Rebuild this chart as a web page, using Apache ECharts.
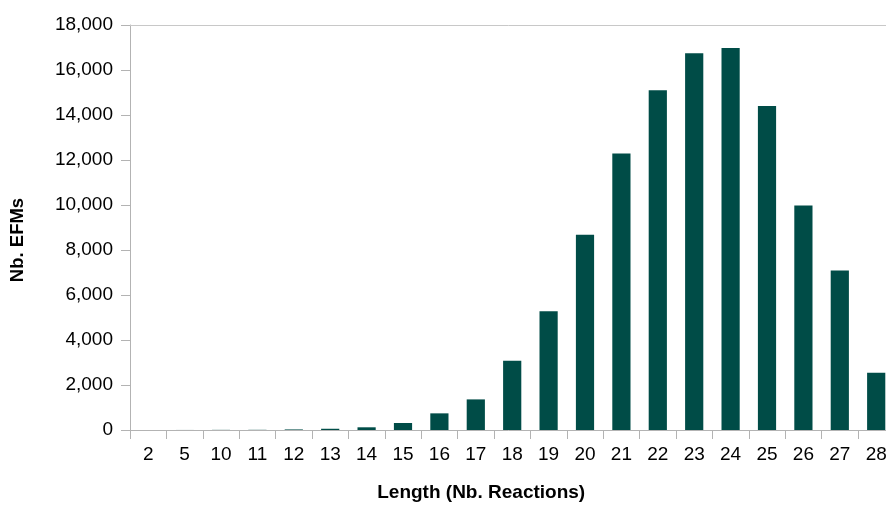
<!DOCTYPE html>
<html>
<head>
<meta charset="utf-8">
<script src="https://cdn.jsdelivr.net/npm/echarts@6/dist/echarts.min.js"></script>
<style>
html,body{margin:0;padding:0;background:#fff;overflow:hidden;}
#chart{width:886px;height:506px;}
</style>
</head>
<body>
<div id="chart"></div>
<script>
var categories = ['2','5','10','11','12','13','14','15','16','17','18','19','20','21','22','23','24','25','26','27','28'];
var values = [1, 2, 6, 8, 25, 55, 120, 310, 740, 1360, 3080, 5280, 8680, 12290, 15100, 16750, 16980, 14400, 9980, 7090, 2540];
var yTicks = { min: 0, max: 18000, interval: 2000 };
var xName = 'Length (Nb. Reactions)';
var yName = 'Nb. EFMs';

var chart = echarts.init(document.getElementById('chart'));
var font = '"Liberation Sans", Arial, sans-serif';
chart.setOption({
  animation: false,
  grid: { left: 130, top: 25, bottom: 76, width: 764.4, containLabel: false, outerBoundsMode: 'none' },
  xAxis: [{
    type: 'category',
    data: categories,
    name: xName,
    nameLocation: 'middle',
    nameGap: 53,
    nameTextStyle: { fontFamily: font, fontWeight: 'bold', fontSize: 19, color: '#000', padding: [0, 62, 0, 0] },
    axisLine: { lineStyle: { color: '#b3b3b3' } },
    axisTick: { show: true, length: 9, alignWithLabel: false, lineStyle: { color: '#b3b3b3' } },
    axisLabel: { fontFamily: font, fontSize: 19, color: '#000', margin: 15, interval: 0 },
    splitLine: { show: false }
  }, {
    type: 'category',
    position: 'top',
    data: categories,
    axisLine: { show: true, lineStyle: { color: '#c8c8c8' } },
    axisTick: { show: false },
    axisLabel: { show: false },
    splitLine: { show: false }
  }],
  yAxis: {
    type: 'value',
    min: yTicks.min, max: yTicks.max, interval: yTicks.interval,
    name: yName,
    nameLocation: 'middle',
    nameGap: 103,
    nameTextStyle: { fontFamily: font, fontWeight: 'bold', fontSize: 18.5, color: '#000', padding: [0, 25, 0, 0] },
    axisLine: { show: true, lineStyle: { color: '#b3b3b3' } },
    axisTick: { show: true, length: 9, inside: false, lineStyle: { color: '#b3b3b3' } },
    axisLabel: {
      fontFamily: font, fontSize: 19, color: '#000', margin: 17,
      formatter: function (v) { return v.toLocaleString('en-US'); }
    },
    splitLine: { show: false }
  },
  series: [{
    type: 'bar',
    data: values,
    barWidth: '50%',
    itemStyle: { color: '#004c47' }
  }]
});
</script>
</body>
</html>
